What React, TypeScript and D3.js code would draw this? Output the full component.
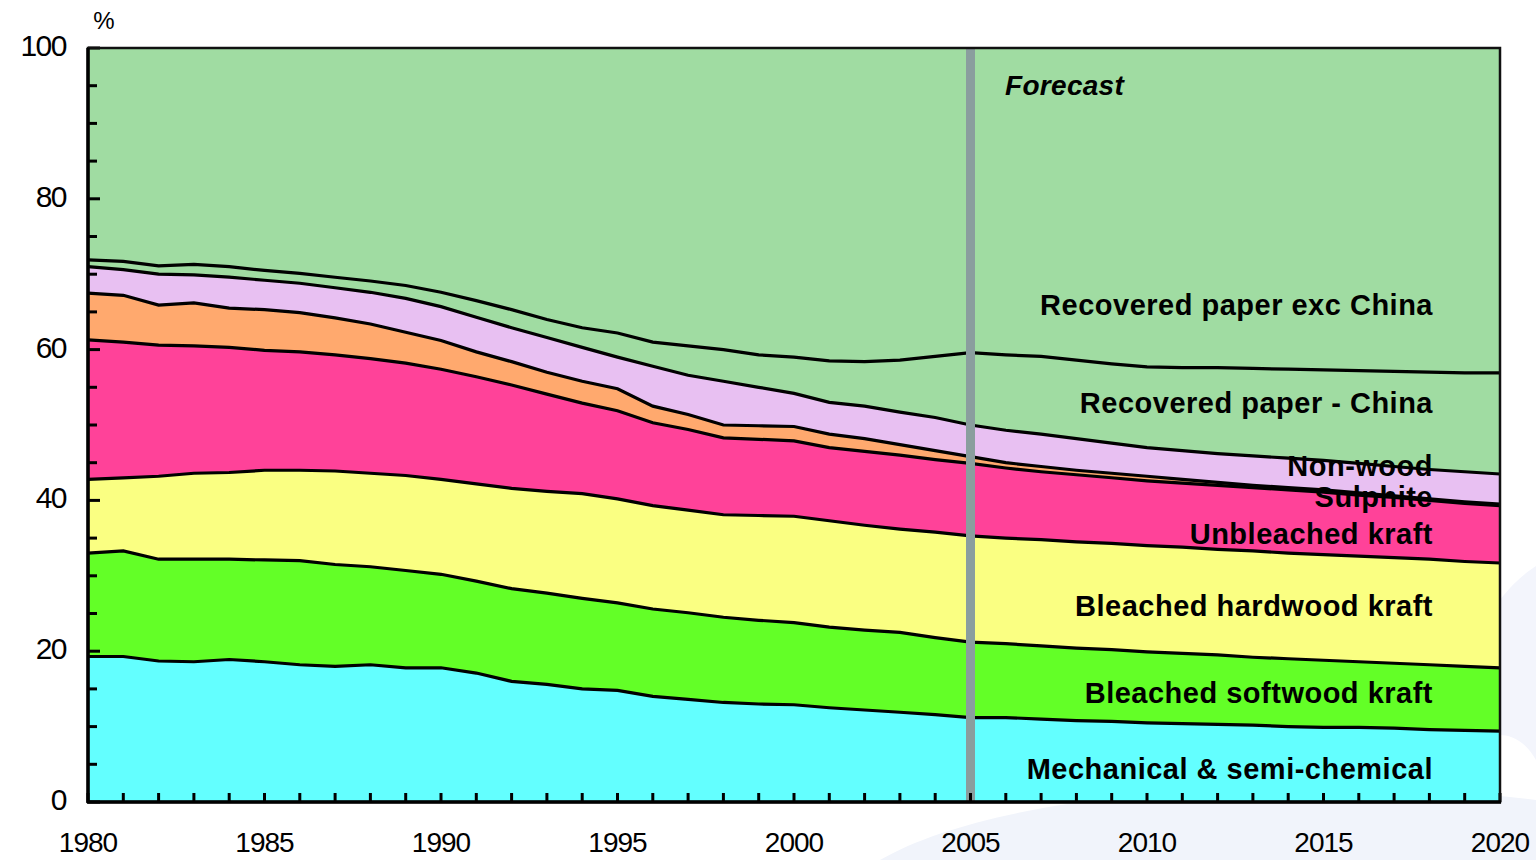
import React, { useEffect, useRef } from "react";
import * as d3 from "d3";

const years = [
  1980, 1981, 1982, 1983, 1984, 1985, 1986, 1987, 1988, 1989,
  1990, 1991, 1992, 1993, 1994, 1995, 1996, 1997, 1998, 1999,
  2000, 2001, 2002, 2003, 2004, 2005, 2006, 2007, 2008, 2009,
  2010, 2011, 2012, 2013, 2014, 2015, 2016, 2017, 2018, 2019, 2020,
];

const mechanical = [
  19.3, 19.3, 18.7, 18.6, 18.9, 18.6, 18.2, 18.0, 18.2, 17.8,
  17.8, 17.1, 16.0, 15.6, 15.0, 14.8, 14.0, 13.6, 13.2, 13.0,
  12.9, 12.5, 12.2, 11.9, 11.6, 11.2, 11.2, 11.0, 10.8, 10.7,
  10.5, 10.4, 10.3, 10.2, 10.0, 9.9, 9.9, 9.8, 9.6, 9.5, 9.4,
];
const softwoodKraft = [
  13.7, 14.0, 13.5, 13.6, 13.3, 13.5, 13.8, 13.5, 13.0, 12.9,
  12.4, 12.2, 12.3, 12.1, 12.0, 11.6, 11.6, 11.5, 11.3, 11.1,
  10.9, 10.7, 10.6, 10.6, 10.2, 10.0, 9.8, 9.7, 9.6, 9.5,
  9.4, 9.3, 9.2, 9.0, 9.0, 8.9, 8.7, 8.6, 8.6, 8.5, 8.4,
];
const hardwoodKraft = [
  9.8, 9.7, 11.0, 11.4, 11.5, 11.9, 12.0, 12.4, 12.4, 12.6,
  12.6, 12.9, 13.3, 13.5, 13.9, 13.8, 13.7, 13.6, 13.6, 13.9,
  14.1, 14.1, 13.9, 13.7, 14.0, 14.1, 14.0, 14.1, 14.1, 14.1,
  14.1, 14.1, 14.0, 14.1, 14.0, 14.0, 14.0, 14.0, 14.0, 13.9, 13.9,
];
const unbleachedKraft = [
  18.5, 18.0, 17.4, 16.9, 16.6, 15.9, 15.7, 15.4, 15.2, 14.9,
  14.6, 14.2, 13.7, 12.9, 12.0, 11.7, 11.0, 10.7, 10.2, 10.1,
  10.0, 9.7, 9.8, 9.8, 9.6, 9.6, 9.3, 9.0, 8.9, 8.7,
  8.6, 8.5, 8.5, 8.4, 8.4, 8.3, 8.1, 8.0, 7.8, 7.7, 7.6,
];
const sulphite = [
  6.2, 6.2, 5.3, 5.7, 5.2, 5.4, 5.2, 4.9, 4.6, 4.1,
  3.8, 3.3, 3.1, 2.9, 2.9, 2.9, 2.2, 2.0, 1.7, 1.8,
  1.9, 1.8, 1.7, 1.4, 1.2, 0.9, 0.7, 0.7, 0.6, 0.6,
  0.6, 0.5, 0.4, 0.3, 0.3, 0.3, 0.3, 0.2, 0.2, 0.2, 0.2,
];
const nonWood = [
  3.5, 3.4, 4.1, 3.7, 4.1, 3.9, 3.9, 4.0, 4.2, 4.5,
  4.5, 4.6, 4.5, 4.6, 4.5, 4.2, 5.3, 5.2, 5.8, 5.1,
  4.4, 4.2, 4.3, 4.3, 4.4, 4.2, 4.3, 4.3, 4.2, 4.0,
  3.8, 3.8, 3.8, 3.9, 3.9, 3.9, 3.9, 3.9, 3.9, 4.0, 4.0,
];
const recoveredChina = [
  0.9, 1.1, 1.1, 1.4, 1.4, 1.3, 1.3, 1.4, 1.5, 1.7,
  1.9, 2.2, 2.4, 2.4, 2.6, 3.2, 3.2, 3.9, 4.2, 4.3,
  4.8, 5.5, 5.9, 6.9, 8.1, 9.6, 10.0, 10.3, 10.4, 10.5,
  10.7, 11.0, 11.4, 11.6, 11.8, 12.0, 12.3, 12.6, 12.9, 13.1, 13.4,
];
const recoveredExChina = [
  28.1, 28.3, 28.9, 28.7, 29.0, 29.5, 29.9, 30.4, 30.9, 31.5,
  32.4, 33.5, 34.7, 36.0, 37.1, 37.8, 39.0, 39.5, 40.0, 40.7,
  41.0, 41.5, 41.6, 41.4, 40.9, 40.4, 40.7, 40.9, 41.4, 41.9,
  42.3, 42.4, 42.4, 42.5, 42.6, 42.7, 42.8, 42.9, 43.0, 43.1, 43.1,
];

const seriesNames = [
  "Mechanical & semi-chemical",
  "Bleached softwood kraft",
  "Bleached hardwood kraft",
  "Unbleached kraft",
  "Sulphite",
  "Non-wood",
  "Recovered paper - China",
  "Recovered paper exc China",
];
const seriesValues = [
  mechanical, softwoodKraft, hardwoodKraft, unbleachedKraft,
  sulphite, nonWood, recoveredChina, recoveredExChina,
];
const seriesColors = [
  "#63FFFF", "#63FF27", "#FAFF82", "#FF4299",
  "#FFA96E", "#E8C0F2", "#A0DCA2", "#A0DCA2",
];
// label vertical positions (value-space, %)
const labelY = [4, 14.1, 25.7, 35.2, 40.1, 44.2, 52.6, 65.6];

const yTicksMajor = [0, 20, 40, 60, 80, 100];
const yTicksMinor = [5, 10, 15, 25, 30, 35, 45, 50, 55, 65, 70, 75, 85, 90, 95];
const xTickLabels = [1980, 1985, 1990, 1995, 2000, 2005, 2010, 2015, 2020];
const forecastYear = 2005;

const W = 1536;
const H = 860;
const FONT = "'Liberation Sans', Arial, Helvetica, sans-serif";

export default function App() {
  const ref = useRef<SVGSVGElement>(null);

  useEffect(() => {
    const svg = d3.select(ref.current);
    svg.selectAll("*").remove();

    const x = d3.scaleLinear().domain([1980, 2020]).range([88, 1500]);
    const y = d3.scaleLinear().domain([0, 100]).range([802, 48]);

    // faint watermark swoosh
    svg.append("path")
      .attr("d", "M 880 860 C 1000 790, 1300 770, 1536 800 L 1536 860 Z")
      .attr("fill", "#F1F4FB");
    svg.append("path")
      .attr("d", "M 1500 600 C 1515 580, 1530 570, 1536 566 L 1536 760 C 1525 740, 1510 735, 1500 735 Z")
      .attr("fill", "#F3F5FC");

    const rows = years.map((yr, i) => {
      const r: any = { year: yr };
      seriesNames.forEach((n, k) => (r[n] = seriesValues[k][i]));
      return r;
    });
    const stacked = d3.stack<any>().keys(seriesNames)(rows);

    const area = d3.area<any>()
      .x((d) => x(d.data.year))
      .y0((d) => y(d[0]))
      .y1((d) => y(d[1]))
      .curve(d3.curveLinear);
    const line = d3.line<any>()
      .x((d) => x(d.data.year))
      .y((d) => y(d[1]))
      .curve(d3.curveLinear);

    const g = svg.append("g");
    g.selectAll("path.area")
      .data(stacked)
      .join("path")
      .attr("class", "area")
      .attr("d", area as any)
      .attr("fill", (_d, i) => seriesColors[i]);

    g.selectAll("path.bline")
      .data(stacked.slice(0, stacked.length - 1))
      .join("path")
      .attr("class", "bline")
      .attr("d", line as any)
      .attr("fill", "none")
      .attr("stroke", "#000")
      .attr("stroke-width", 3.2);

    // forecast divider
    svg.append("line")
      .attr("x1", x(forecastYear)).attr("x2", x(forecastYear))
      .attr("y1", y(100)).attr("y2", y(0))
      .attr("stroke", "#8A9E9E").attr("stroke-width", 9);

    svg.append("text")
      .attr("x", 1005).attr("y", 95)
      .attr("font-family", FONT).attr("font-size", 28)
      .attr("font-style", "italic").attr("font-weight", "bold")
      .attr("letter-spacing", 0.3)
      .attr("fill", "#000")
      .text("Forecast");

    // series labels
    seriesNames.forEach((n, i) => {
      svg.append("text")
        .attr("x", 1433).attr("y", y(labelY[i]))
        .attr("text-anchor", "end")
        .attr("dominant-baseline", "middle")
        .attr("font-family", FONT).attr("font-size", 29)
        .attr("font-weight", "bold")
        .attr("letter-spacing", 0.5)
        .attr("fill", "#000")
        .text(n);
    });

    // ticks
    const tickG = svg.append("g").attr("stroke", "#000").attr("stroke-width", 3);
    yTicksMinor.forEach((v) => {
      tickG.append("line").attr("x1", 88).attr("x2", 97).attr("y1", y(v)).attr("y2", y(v));
    });
    yTicksMajor.forEach((v) => {
      tickG.append("line").attr("x1", 88).attr("x2", 100).attr("y1", y(v)).attr("y2", y(v));
    });
    years.forEach((yr) => {
      tickG.append("line").attr("x1", x(yr)).attr("x2", x(yr)).attr("y1", 802).attr("y2", 793);
    });

    // frame
    svg.append("rect")
      .attr("x", 88).attr("y", 48).attr("width", 1412).attr("height", 754)
      .attr("fill", "none").attr("stroke", "#111").attr("stroke-width", 2.5);
    svg.append("line").attr("x1", 88).attr("x2", 88).attr("y1", 48).attr("y2", 803)
      .attr("stroke", "#000").attr("stroke-width", 3.5);
    svg.append("line").attr("x1", 87).attr("x2", 1501).attr("y1", 802).attr("y2", 802)
      .attr("stroke", "#000").attr("stroke-width", 3.5);

    // tick labels
    yTicksMajor.forEach((v) => {
      svg.append("text")
        .attr("x", 66).attr("y", y(v))
        .attr("text-anchor", "end").attr("dominant-baseline", "middle")
        .attr("font-family", FONT).attr("font-size", 30)
        .attr("letter-spacing", -1.5)
        .attr("fill", "#000")
        .text(String(v));
    });
    xTickLabels.forEach((v) => {
      svg.append("text")
        .attr("x", x(v)).attr("y", 845)
        .attr("text-anchor", "middle").attr("dominant-baseline", "middle")
        .attr("font-family", FONT).attr("font-size", 28)
        .attr("letter-spacing", -1)
        .attr("fill", "#000")
        .text(String(v));
    });
    svg.append("text")
      .attr("x", 104).attr("y", 23)
      .attr("text-anchor", "middle").attr("dominant-baseline", "middle")
      .attr("font-family", FONT).attr("font-size", 24)
      .attr("fill", "#000")
      .text("%");
  }, []);

  return (
    <svg
      ref={ref}
      width={W}
      height={H}
      style={{ position: "absolute", left: 0, top: 0, background: "#fff" }}
    />
  );
}
